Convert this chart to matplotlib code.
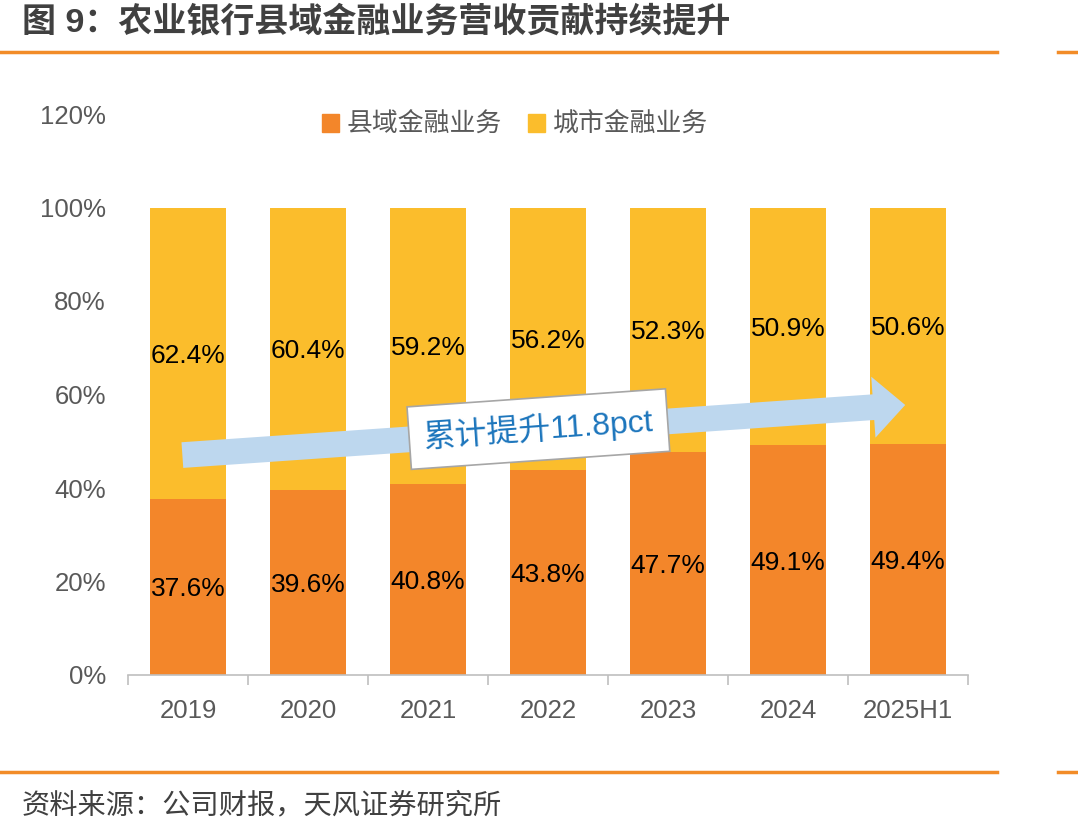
import matplotlib
matplotlib.use("Agg")
import matplotlib.pyplot as plt
from matplotlib.lines import Line2D
from matplotlib.patches import FancyArrowPatch, Patch
import numpy as np

plt.rcParams['font.family'] = ['Liberation Sans', 'Noto Sans CJK SC', 'DejaVu Sans']

# data
years = ['2019', '2020', '2021', '2022', '2023', '2024', '2025H1']
county = [37.6, 39.6, 40.8, 43.8, 47.7, 49.1, 49.4]
city = [62.4, 60.4, 59.2, 56.2, 52.3, 50.9, 50.6]
yticks = [0, 20, 40, 60, 80, 100, 120]

c_orange = '#F3862A'
c_yellow = '#FBBD2C'
c_gray = '#595959'

W, H = 1078, 839
fig = plt.figure(figsize=(W / 100, H / 100), dpi=100)
ax = fig.add_axes([128 / W, 1 - 675 / H, (968 - 128) / W, (675 - 114) / H])

x = np.arange(len(years))
ax.bar(x, county, width=0.63, color=c_orange, label='县域金融业务', zorder=2)
ax.bar(x, city, width=0.63, bottom=county, color=c_yellow, label='城市金融业务', zorder=2)

for i in range(len(years)):
    ax.text(x[i], county[i] / 2 - 0.5, f'{county[i]:.1f}%', ha='center', va='center',
            fontsize=19, color='black', zorder=5)
    ax.text(x[i], county[i] + city[i] / 2 - 0.5, f'{city[i]:.1f}%', ha='center', va='center',
            fontsize=19, color='black', zorder=5)

ax.set_xlim(-0.5, len(years) - 0.5)
ax.set_ylim(0, 120)
ax.set_yticks(yticks)
ax.set_yticklabels([f'{v}%' for v in yticks])
ax.set_xticks(x)
ax.set_xticklabels(years)
ax.tick_params(axis='y', length=0, pad=16, labelsize=18.5, labelcolor=c_gray)
ax.tick_params(axis='x', which='major', length=0, pad=17, labelsize=18.5, labelcolor=c_gray)
ax.set_xticks(np.arange(-0.5, len(years)), minor=True)
ax.tick_params(axis='x', which='minor', length=7, color='#BFBFBF', width=1.2)
for s in ['top', 'right', 'left']:
    ax.spines[s].set_visible(False)
ax.spines['bottom'].set_color('#BFBFBF')
ax.spines['bottom'].set_linewidth(1.2)

# trend arrow
arrow = FancyArrowPatch((-0.07, 47.0), (6.0, 57.8),
                        arrowstyle='simple,head_length=2.3,head_width=4.4,tail_width=1.85',
                        mutation_scale=10, color='#BDD7EE', lw=0, zorder=3)
ax.add_patch(arrow)
ax.text(2.92, 52.6, '累计提升11.8pct', ha='center', va='center', rotation=4,
        rotation_mode='anchor', fontsize=23, color='#1C75BC', zorder=4,
        bbox=dict(boxstyle='square,pad=0.45', facecolor='white', edgecolor='#A6A6A6', lw=1.2))

# legend
handles = [Patch(color=c_orange), Patch(color=c_yellow)]
fig.legend(handles, ['县域金融业务', '城市金融业务'], loc='center',
           bbox_to_anchor=(515 / W, 1 - 125 / H), ncol=2, frameon=False,
           fontsize=18.6, handlelength=0.65, handleheight=0.65, handletextpad=0.3,
           columnspacing=1.0, labelcolor=c_gray)

# header / footer
fig.text(22 / W, 1 - 22 / H, '图 9：农业银行县域金融业务营收贡献持续提升', ha='left', va='center',
         fontsize=24.5, fontweight='bold', color='#404040')
for yy in [52, 772]:
    fig.add_artist(Line2D([0, 997 / W], [1 - yy / H] * 2, color='#F28C28', lw=2.5))
    fig.add_artist(Line2D([1058 / W, 1], [1 - yy / H] * 2, color='#F28C28', lw=2.5))
fig.text(22 / W, 1 - 806 / H, '资料来源：公司财报，天风证券研究所', ha='left', va='center',
         fontsize=20.3, color='#404040')

fig.savefig('out.png', dpi=100)
